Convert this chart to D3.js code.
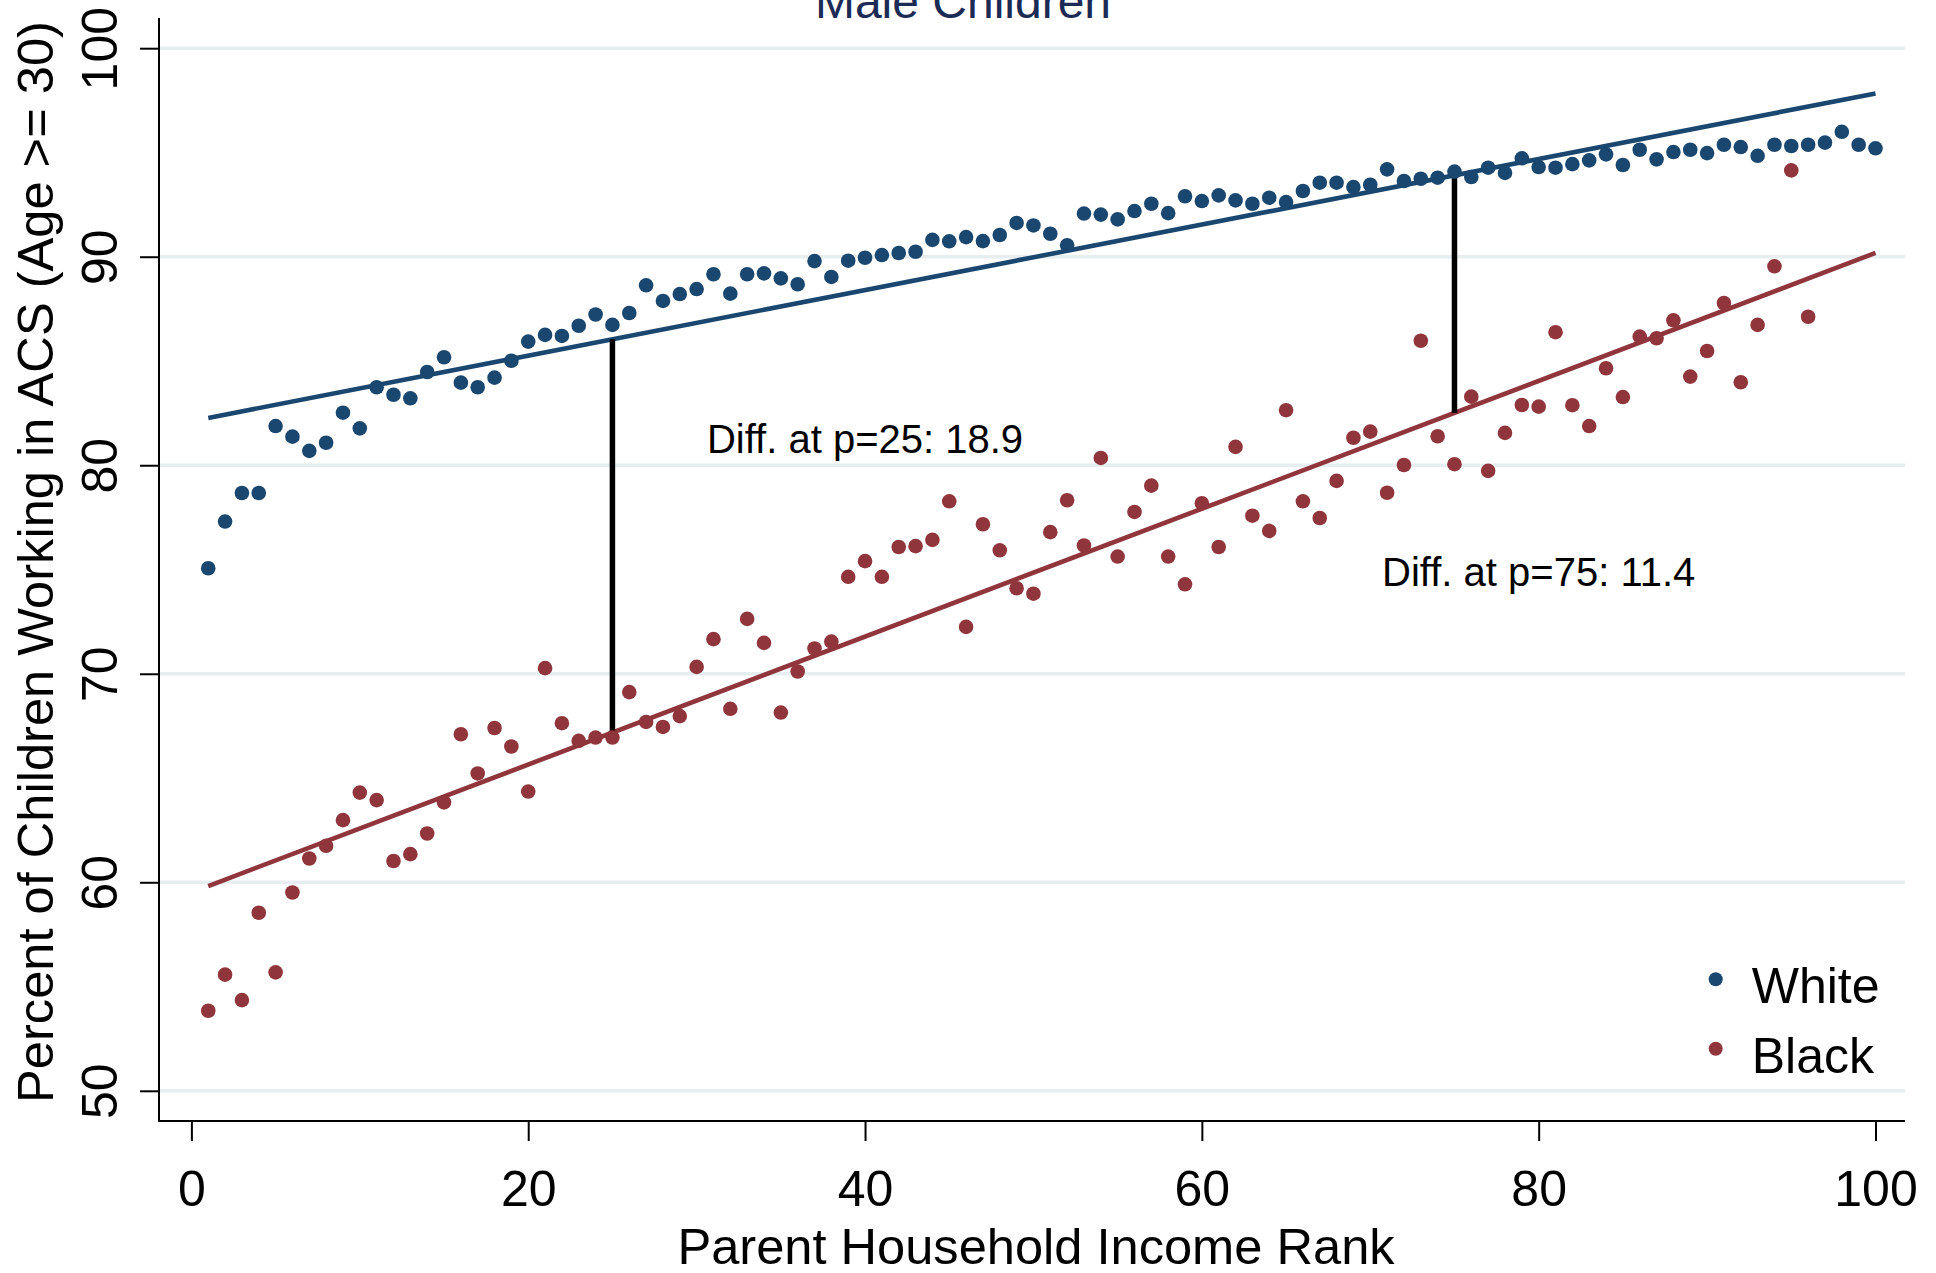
<!DOCTYPE html>
<html>
<head>
<meta charset="utf-8">
<script src="https://cdn.jsdelivr.net/npm/d3@7"></script>
<style>
  html, body { margin: 0; padding: 0; background: #ffffff; }
  svg { display: block; font-family: "Liberation Sans", Arial, Helvetica, sans-serif; }
</style>
</head>
<body>
<svg id="chart" width="1936" height="1273"></svg>
<script>
// Parent household income rank (percentile)
const ranks = d3.range(1, 101);

// Percent of male children working (age >= 30), by parent income rank
const whiteValues = [
  75.06, 77.30, 78.67, 78.67, 81.88, 81.37, 80.69, 81.08, 82.52, 81.77,
  83.74, 83.38, 83.21, 84.47, 85.18, 83.96, 83.74, 84.20, 85.01, 85.93,
  86.25, 86.20, 86.69, 87.23, 86.73, 87.30, 88.63, 87.88, 88.21, 88.45,
  89.16, 88.23, 89.16, 89.20, 88.96, 88.68, 89.79, 89.03, 89.81, 89.95,
  90.08, 90.18, 90.24, 90.81, 90.74, 90.94, 90.75, 91.04, 91.62, 91.50,
  91.10, 90.55, 92.07, 92.02, 91.79, 92.19, 92.54, 92.09, 92.90, 92.67,
  92.94, 92.70, 92.54, 92.83, 92.62, 93.15, 93.55, 93.55, 93.34, 93.45,
  94.19, 93.63, 93.74, 93.79, 94.08, 93.82, 94.27, 94.02, 94.72, 94.30,
  94.27, 94.44, 94.62, 94.91, 94.40, 95.13, 94.67, 95.02, 95.13, 94.97,
  95.37, 95.26, 94.84, 95.37, 95.31, 95.37, 95.47, 95.99, 95.37, 95.20
];

const blackValues = [
  53.84, 55.57, 54.35, 58.54, 55.68, 59.51, 61.14, 61.75, 62.98, 64.30,
  63.94, 61.02, 61.35, 62.34, 63.83, 67.10, 65.22, 67.40, 66.51, 64.35,
  70.27, 67.63, 66.78, 66.94, 66.94, 69.12, 67.69, 67.45, 67.97, 70.33,
  71.66, 68.32, 72.63, 71.48, 68.14, 70.11, 71.21, 71.54, 74.65, 75.40,
  74.65, 76.08, 76.12, 76.42, 78.27, 72.25, 77.17, 75.92, 74.10, 73.84,
  76.79, 78.32, 76.15, 80.35, 75.62, 77.76, 79.02, 75.62, 74.29, 78.18,
  76.08, 80.88, 77.58, 76.85, 82.64, 78.27, 77.47, 79.25, 81.32, 81.61,
  78.68, 80.01, 85.97, 81.39, 80.05, 83.29, 79.73, 81.55, 82.89, 82.81,
  86.38, 82.88, 81.88, 84.65, 83.27, 86.17, 86.09, 86.95, 84.25, 85.48,
  87.78, 83.98, 86.73, 89.54, 94.14, 87.12
];

// Linear fits, given at their end ranks
const fitRanks = [1, 100];
const whiteFit = [82.27, 97.83];
const blackFit = [59.82, 90.18];

// White-minus-Black gaps at the marked ranks
const diffRanks = [25, 75];
const diffValues = [18.9, 11.4];

const xTicks = [0, 20, 40, 60, 80, 100];
const yTicks = [50, 60, 70, 80, 90, 100];

const seriesNames = ["White", "Black"];
const seriesColors = ["#1a476f", "#90353b"];

// ---- layout ----
const frame = { left: 159, right: 1905, top: 18, bottom: 1121 };
const x = d3.scaleLinear().domain([0, 100]).range([191.4, 1875.5]);
const y = d3.scaleLinear().domain([50, 100]).range([1090.8, 48.2]);

const svg = d3.select("#chart");

// horizontal grid
svg.append("g").selectAll("line").data(yTicks).join("line")
  .attr("x1", frame.left).attr("x2", frame.right)
  .attr("y1", d => y(d)).attr("y2", d => y(d))
  .attr("stroke", "#e6eef0").attr("stroke-width", 3.5);

// fitted lines
const fitLine = d3.line().x(d => x(d[0])).y(d => y(d[1]));
[whiteFit, blackFit].forEach((fit, i) => {
  svg.append("path")
    .datum(fitRanks.map((r, j) => [r, fit[j]]))
    .attr("d", fitLine)
    .attr("fill", "none")
    .attr("stroke", seriesColors[i])
    .attr("stroke-width", 4.6);
});

// gap markers between the fits
const fitAt = (fit, r) => fit[0] + (fit[1] - fit[0]) * (r - fitRanks[0]) / (fitRanks[1] - fitRanks[0]);
svg.append("g").selectAll("line").data(diffRanks.map((r, i) => ({ r, d: diffValues[i] }))).join("line")
  .attr("x1", d => x(d.r)).attr("x2", d => x(d.r))
  .attr("y1", d => y(fitAt(whiteFit, d.r)))
  .attr("y2", d => y(fitAt(whiteFit, d.r) - d.d))
  .attr("stroke", "#000").attr("stroke-width", 5.5);

// gap labels
const labelSpots = [{ px: 40, py: 80.6 }, { px: 80, py: 74.2 }];
svg.append("g").selectAll("text").data(diffRanks).join("text")
  .attr("x", (d, i) => x(labelSpots[i].px))
  .attr("y", (d, i) => y(labelSpots[i].py))
  .attr("text-anchor", "middle")
  .attr("font-size", 40)
  .attr("fill", "#000")
  .text((d, i) => `Diff. at p=${d}: ${diffValues[i].toFixed(1)}`);

// scatter points
const pts = [
  ...whiteValues.map((v, i) => ({ r: ranks[i], v, s: 0 })),
  ...blackValues.map((v, i) => ({ r: ranks[i], v, s: 1 }))
];
svg.append("g").selectAll("circle").data(pts).join("circle")
  .attr("cx", d => x(d.r)).attr("cy", d => y(d.v))
  .attr("r", 7.3)
  .attr("fill", d => seriesColors[d.s]);

// axes
const yAxis = svg.append("g")
  .attr("transform", `translate(${frame.left},0)`)
  .call(d3.axisLeft(y).tickValues(yTicks).tickSize(19).tickFormat(d3.format("d")));
yAxis.select(".domain").remove();
yAxis.selectAll(".tick line").attr("stroke", "#000").attr("stroke-width", 2);
yAxis.selectAll(".tick text")
  .attr("x", 0).attr("y", 0).attr("dy", 0)
  .attr("text-anchor", "middle")
  .attr("transform", "translate(-42,0) rotate(-90)")
  .attr("font-size", 50).attr("font-family", null).attr("fill", "#000");

const xAxis = svg.append("g")
  .attr("transform", `translate(0,${frame.bottom})`)
  .call(d3.axisBottom(x).tickValues(xTicks).tickSize(20).tickFormat(d3.format("d")));
xAxis.select(".domain").remove();
xAxis.selectAll(".tick line").attr("stroke", "#000").attr("stroke-width", 2);
xAxis.selectAll(".tick text")
  .attr("y", 85).attr("dy", 0)
  .attr("font-size", 50).attr("font-family", null).attr("fill", "#000");

// axis lines
svg.append("line")
  .attr("x1", frame.left).attr("x2", frame.left)
  .attr("y1", frame.top).attr("y2", frame.bottom + 1)
  .attr("stroke", "#000").attr("stroke-width", 2);
svg.append("line")
  .attr("x1", frame.left - 1).attr("x2", frame.right)
  .attr("y1", frame.bottom).attr("y2", frame.bottom)
  .attr("stroke", "#000").attr("stroke-width", 2);

// axis titles
svg.append("text")
  .attr("x", 1036).attr("y", 1264)
  .attr("text-anchor", "middle").attr("font-size", 50.6).attr("fill", "#000")
  .text("Parent Household Income Rank");
svg.append("text")
  .attr("transform", "translate(53,562) rotate(-90)")
  .attr("text-anchor", "middle").attr("font-size", 50.6).attr("fill", "#000")
  .text("Percent of Children Working in ACS (Age >= 30)");

// title
svg.append("text")
  .attr("x", 963).attr("y", 18)
  .attr("text-anchor", "middle").attr("font-size", 48).attr("fill", "#1c2b55")
  .text("Male Children");

// legend
const legend = svg.append("g").selectAll("g").data(seriesNames).join("g")
  .attr("transform", (d, i) => `translate(1715.7,${979.3 + i * 69.4})`);
legend.append("circle").attr("r", 7).attr("fill", (d, i) => seriesColors[i]);
legend.append("text")
  .attr("x", 36).attr("y", 24)
  .attr("font-size", 50).attr("fill", "#000")
  .text(d => d);
</script>
</body>
</html>
